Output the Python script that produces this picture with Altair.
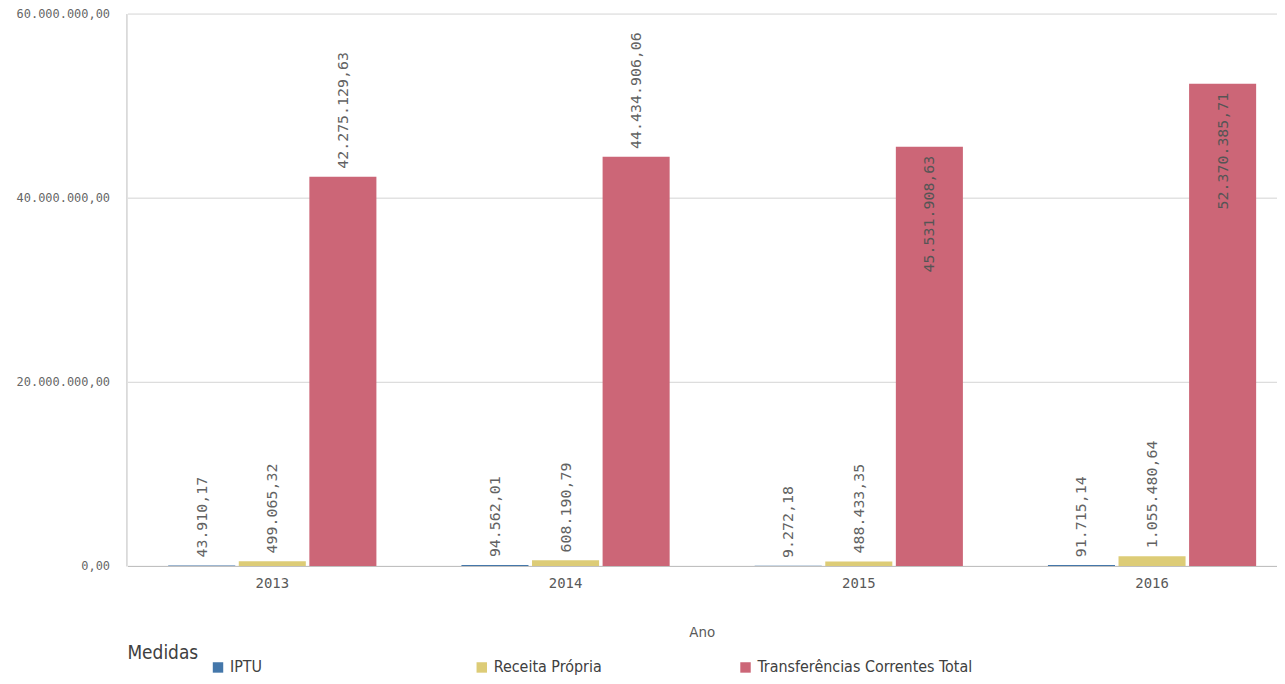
import altair as alt
import pandas as pd

anos = ["2013", "2014", "2015", "2016"]
medidas = ["IPTU", "Receita Própria", "Transferências Correntes Total"]
iptu = [43910.17, 94562.01, 9272.18, 91715.14]
receita_propria = [499065.32, 608190.79, 488433.35, 1055480.64]
transferencias = [42275129.63, 44434906.06, 45531908.63, 52370385.71]
cores = ["#4477aa", "#ddcc77", "#cc6677"]

rows = []
for i, a in enumerate(anos):
    for m, serie in zip(medidas, [iptu, receita_propria, transferencias]):
        rows.append({"Ano": a, "Medidas": m, "valor": serie[i]})
df = pd.DataFrame(rows)
df["dentro"] = df["valor"] > 45000000

MONO = "DejaVu Sans Mono"
NARROW = "Liberation Sans Narrow, DejaVu Sans Condensed, sans-serif"

base = alt.Chart(df).encode(
    x=alt.X("Ano:N", title="Ano",
            scale=alt.Scale(range=[1, 1176], paddingInner=0.29, paddingOuter=0.139),
            axis=alt.Axis(labelAngle=0, labelFont=MONO, labelFontSize=14,
                          labelColor="#595959", ticks=False, domainColor="#bdbdbd",
                          labelPadding=11, titleFont=NARROW, titleFontSize=15,
                          titleFontWeight="normal", titleColor="#595959",
                          titlePadding=34, titleX=578)),
    xOffset=alt.XOffset("Medidas:N", sort=medidas,
                        scale=alt.Scale(paddingInner=0.05)),
)

bars = base.mark_bar().encode(
    y=alt.Y("valor:Q", title=None,
            scale=alt.Scale(domain=[0, 60000000]),
            axis=alt.Axis(values=[0, 20000000, 40000000, 60000000], format=",.2f",
                          labelFont=MONO, labelFontSize=12, labelColor="#666666",
                          ticks=False, domainColor="#bdbdbd", gridColor="#d4d4d4",
                          labelPadding=17)),
    color=alt.Color("Medidas:N", sort=medidas,
                    scale=alt.Scale(domain=medidas, range=cores),
                    legend=alt.Legend(orient="none", legendX=1, legendY=649,
                                      direction="horizontal", columns=3,
                                      titleOrient="left", titleAnchor="start",
                                      titleBaseline="alphabetic", gridAlign="all",
                                      columnPadding=22, symbolType="square",
                                      symbolSize=110, symbolOffset=6,
                                      labelFont=NARROW, labelFontSize=16,
                                      labelColor="#404040", titleFont=NARROW,
                                      titleFontSize=19, titleFontWeight="normal",
                                      titleColor="#404040", titlePadding=5,
                                      labelLimit=400)),
)

fora = base.transform_filter("!datum.dentro").mark_text(
    angle=270, align="left", baseline="middle", dx=8,
    font=MONO, fontSize=15, color="#626262"
).encode(y="valor:Q", text=alt.Text("valor:Q", format=",.2f"))

dentro = base.transform_filter("datum.dentro").mark_text(
    angle=270, align="right", baseline="middle", dx=-9,
    font=MONO, fontSize=15, color="#555555"
).encode(y="valor:Q", text=alt.Text("valor:Q", format=",.2f"))

chart = alt.layer(bars, fora, dentro).properties(
    width=1156, height=555,
    autosize=alt.AutoSizeParams(type="none"),
    padding={"left": 119, "top": 4, "right": 0, "bottom": 108},
).configure(
    locale={"number": {"decimal": ",", "thousands": ".", "grouping": [3],
                       "currency": ["R$", ""]}}
).configure_view(stroke=None)

chart.save("out.html", embed_options={"renderer": "svg", "actions": False})
